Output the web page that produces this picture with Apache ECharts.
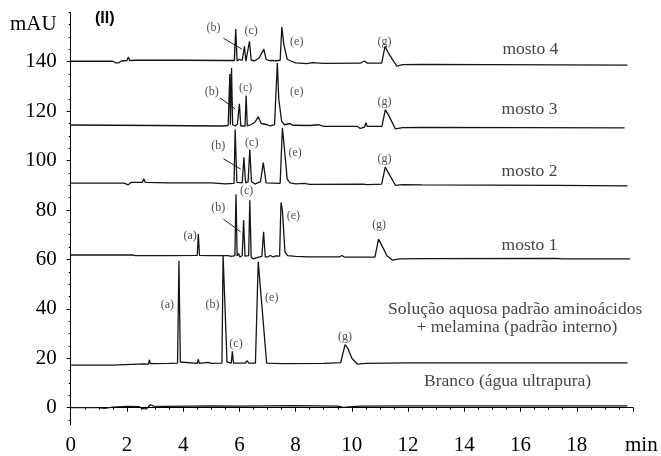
<!DOCTYPE html>
<html>
<head>
<meta charset="utf-8">
<script src="https://cdn.jsdelivr.net/npm/echarts@6/dist/echarts.min.js"></script>
<style>
  html, body { margin: 0; padding: 0; background: #fff; }
  #chart { width: 661px; height: 456px; }
</style>
</head>
<body>
<div id="chart"></div>
<script>
// Retention time (min) vs absorbance (mAU); each trace is drawn with its own baseline offset.
const xTicks = [0, 2, 4, 6, 8, 10, 12, 14, 16, 18];
const yTicks = [0, 20, 40, 60, 80, 100, 120, 140];

const branco = [
  [0, 0], [1.0, 0], [1.2, -0.3], [1.5, 0.2], [2.0, 0.5], [2.45, 0.4], [2.55, -0.4], [2.7, -0.5],
  [2.83, 1.2], [2.95, 0.6], [3.3, 0.5], [4.2, 0.6], [4.25, 1.0], [4.3, 0.6], [5.0, 0.7], [6.0, 0.6],
  [8.0, 0.8], [9.5, 0.6], [9.7, 0.1], [9.9, 0.3], [10.3, 0.6], [12.0, 0.7], [19.8, 0.7]
];

const solucao = [
  [0, 17.2], [1.5, 17.2], [1.55, 17.6], [2.6, 17.7], [2.77, 17.6], [2.8, 19.4], [2.83, 17.8],
  [3.5, 17.9], [3.8, 18.0], [3.85, 59.5], [3.9, 18.5], [3.97, 17.8], [4.5, 17.9], [4.54, 19.6],
  [4.57, 17.9], [4.9, 18.3], [5.0, 17.9], [5.38, 18.0], [5.42, 61.8], [5.45, 61.8], [5.56, 18.5],
  [5.62, 18.0], [5.71, 18.0], [5.75, 22.8], [5.79, 18.0], [6.2, 18.0], [6.28, 19.0], [6.33, 18.0],
  [6.57, 18.0], [6.67, 59.1], [6.72, 59.1], [6.97, 18.0], [7.5, 17.8], [9.0, 17.9], [9.6, 18.2],
  [9.76, 25.5], [9.86, 24.0], [10.0, 20.0], [10.2, 17.6], [10.5, 17.9], [12.0, 18.1], [19.8, 18.1]
];

const mosto1 = [
  [0, 61.8], [2.2, 61.8], [2.3, 61.5], [3.5, 61.5], [4.5, 61.6], [4.54, 70.3], [4.58, 61.6],
  [5.0, 61.5], [5.6, 61.5], [5.72, 61.2], [5.84, 61.5], [5.88, 86.4], [5.92, 61.4], [5.97, 62.4],
  [6.02, 61.0], [6.1, 61.5], [6.15, 75.9], [6.2, 61.3], [6.26, 60.5], [6.33, 61.5], [6.37, 83.9],
  [6.42, 61.0], [6.5, 60.2], [6.65, 60.8], [6.8, 61.2], [6.86, 71.2], [6.92, 61.0], [7.0, 61.0],
  [7.1, 61.6], [7.2, 61.0], [7.3, 61.4], [7.43, 61.3], [7.48, 83.0], [7.53, 80.0], [7.62, 63.0],
  [7.72, 61.5], [8.0, 61.2], [8.5, 61.0], [9.55, 61.0], [9.65, 61.6], [9.74, 60.9], [10.82, 60.9],
  [10.95, 68.2], [11.05, 66.0], [11.25, 61.5], [11.45, 59.7], [11.7, 60.2], [12.5, 60.3],
  [17.3, 60.4], [17.5, 60.2], [19.9, 60.2]
];

const mosto2 = [
  [0, 90.9], [1.9, 90.9], [2.05, 90.2], [2.15, 91.2], [2.55, 91.2], [2.6, 92.6], [2.65, 91.2],
  [3.5, 91.0], [5.0, 91.0], [5.5, 90.6], [5.81, 90.8], [5.85, 112.6], [5.91, 91.2], [6.1, 91.0],
  [6.16, 101.3], [6.22, 91.0], [6.31, 91.5], [6.37, 104.5], [6.43, 91.5], [6.55, 90.5], [6.75, 91.5],
  [6.85, 99.2], [6.95, 91.0], [7.0, 90.6], [7.45, 90.8], [7.53, 113.3], [7.6, 105.0], [7.7, 92.5],
  [7.8, 91.0], [8.0, 90.6], [8.3, 90.8], [8.5, 90.4], [10.4, 90.5], [10.47, 91.3], [10.55, 90.3],
  [11.06, 90.5], [11.19, 97.4], [11.3, 95.0], [11.55, 90.0], [11.8, 90.3], [12.5, 90.2],
  [17.3, 90.0], [19.8, 89.8]
];

const mosto3 = [
  [0, 114.4], [3.0, 114.2], [5.4, 114.0], [5.6, 114.2], [5.66, 135.0], [5.68, 114.5], [5.72, 137.5],
  [5.76, 114.5], [5.85, 114.0], [5.93, 114.8], [6.0, 123.0], [6.05, 114.0], [6.12, 114.8],
  [6.2, 114.0], [6.24, 126.3], [6.28, 114.0], [6.4, 114.5], [6.55, 115.5], [6.67, 117.7],
  [6.78, 115.0], [6.85, 114.2], [7.0, 114.5], [7.1, 114.0], [7.25, 114.5], [7.31, 114.5],
  [7.35, 139.5], [7.4, 125.0], [7.5, 116.0], [7.6, 114.5], [7.8, 115.0], [7.9, 114.3], [8.5, 114.2],
  [8.8, 114.5], [9.0, 113.8], [10.2, 113.8], [10.3, 113.0], [10.36, 113.8], [10.45, 113.5],
  [10.5, 115.3], [10.55, 113.8], [11.07, 113.8], [11.19, 120.6], [11.3, 118.5], [11.55, 112.8],
  [11.8, 113.3], [12.5, 113.4], [19.7, 113.2]
];

const mosto4 = [
  [0, 140.2], [1.5, 140.2], [1.6, 139.5], [1.7, 139.5], [1.8, 140.3], [2.0, 140.5], [2.05, 141.9],
  [2.1, 140.5], [2.3, 140.6], [4.0, 140.6], [5.5, 140.5], [5.82, 140.5], [5.87, 153.2],
  [5.92, 140.3], [6.0, 141.0], [6.1, 140.5], [6.18, 146.2], [6.23, 140.2], [6.3, 140.8],
  [6.36, 148.2], [6.42, 140.6], [6.55, 140.4], [6.7, 141.5], [6.87, 145.1], [6.95, 141.0],
  [7.05, 140.5], [7.3, 140.4], [7.45, 140.6], [7.51, 154.0], [7.58, 147.0], [7.7, 141.0],
  [7.85, 140.2], [8.0, 139.5], [8.4, 139.2], [8.6, 139.6], [9.0, 139.3], [10.3, 139.4],
  [10.45, 140.3], [10.55, 139.4], [11.06, 139.4], [11.18, 146.2], [11.3, 143.5], [11.6, 138.2],
  [11.8, 138.8], [12.5, 138.9], [19.8, 138.6]
];

// Peak identifiers: [time, mAU, tag]
const peakTags = [
  [5.08, 153.7, '(b)'], [6.42, 152.4, '(c)'], [8.04, 148.2, '(e)'], [11.16, 148.2, '(g)'],
  [5.02, 128.0, '(b)'], [6.22, 129.5, '(c)'], [8.04, 128.0, '(e)'], [11.16, 123.9, '(g)'],
  [5.25, 105.8, '(b)'], [6.44, 107.2, '(c)'], [7.98, 103.2, '(e)'], [11.16, 100.8, '(g)'],
  [4.25, 69.6, '(a)'], [5.25, 81.0, '(b)'], [6.26, 87.7, '(c)'], [7.92, 77.6, '(e)'], [10.97, 73.9, '(g)'],
  [3.44, 41.6, '(a)'], [5.04, 41.6, '(b)'], [5.88, 25.9, '(c)'], [7.15, 44.3, '(e)'], [9.76, 28.6, '(g)']
];

// Leader lines from the (b) tags to their peaks
const leaders = [
  [[5.43, 149.5], [6.09, 145.1]],
  [[5.31, 125.4], [5.85, 120.9]],
  [[5.43, 100.8], [6.05, 96.5]],
  [[5.43, 76.3], [6.04, 71.2]]
];

// Sample names: [time, mAU, text]
const sampleTags = [
  [16.35, 145.1, 'mosto 4'],
  [16.32, 120.6, 'mosto 3'],
  [16.32, 95.8, 'mosto 2'],
  [16.32, 65.5, 'mosto 1'],
  [15.81, 39.7, 'Solução aquosa padrão aminoácidos'],
  [15.87, 32.6, '+ melamina (padrão interno)'],
  [15.54, 10.5, 'Branco (água ultrapura)']
];

const serif = '"Liberation Serif", "DejaVu Serif", serif';
const ink = '#141414';

const traces = [branco, solucao, mosto1, mosto2, mosto3, mosto4];

const series = traces.map(function (d) {
  return {
    type: 'line',
    data: d,
    showSymbol: false,
    symbol: 'none',
    lineStyle: { color: ink, width: 1.3 },
    silent: true,
    z: 3
  };
});

// faint highlight under the (b) peak of mosto 4
series[5].markArea = {
  silent: true,
  itemStyle: { color: '#a9c3df' },
  data: [[{ xAxis: 5.8, yAxis: 140.5 }, { xAxis: 5.86, yAxis: 147 }]]
};

leaders.forEach(function (seg) {
  series.push({
    type: 'line',
    data: seg,
    showSymbol: false,
    symbol: 'none',
    lineStyle: { color: '#222', width: 1 },
    silent: true,
    z: 2
  });
});

series.push({
  type: 'scatter',
  data: peakTags,
  symbolSize: 0,
  silent: true,
  z: 5,
  label: {
    show: true,
    position: 'inside',
    formatter: function (p) { return p.value[2]; },
    fontFamily: serif,
    fontSize: 12,
    color: '#222'
  }
});

series.push({
  type: 'scatter',
  data: sampleTags,
  symbolSize: 0,
  silent: true,
  z: 5,
  label: {
    show: true,
    position: 'inside',
    formatter: function (p) { return p.value[2]; },
    fontFamily: serif,
    fontSize: 17.5,
    color: '#111'
  }
});

const minorY = [];
for (let v = -5; v <= 160; v += 5) minorY.push(v);

const chart = echarts.init(document.getElementById('chart'), null, { renderer: 'canvas' });
chart.setOption({
  animation: false,
  backgroundColor: '#fff',
  grid: { left: 70.7, right: 28, top: 12.3, bottom: 29.3, containLabel: false },
  xAxis: {
    type: 'value',
    min: 0,
    max: 20,
    interval: 2,
    axisLine: { show: true, lineStyle: { color: '#000', width: 1 } },
    axisTick: { show: true, length: 4, inside: false, lineStyle: { color: '#000' } },
    minorTick: { show: true, splitNumber: 4, length: 2, lineStyle: { color: '#000' } },
    splitLine: { show: false },
    axisLabel: {
      show: true,
      margin: 10,
      fontFamily: serif,
      fontSize: 21,
      color: '#000',
      customValues: xTicks
    }
  },
  yAxis: [
    {
      type: 'value',
      min: -7,
      max: 160,
      axisLine: { show: true, lineStyle: { color: '#000', width: 1 } },
      axisTick: { show: true, length: 4, lineStyle: { color: '#000' }, customValues: yTicks },
      splitLine: { show: false },
      axisLabel: {
        show: true,
        margin: 14,
        fontFamily: serif,
        fontSize: 21,
        color: '#000',
        customValues: yTicks
      }
    },
    {
      type: 'value',
      min: -7,
      max: 160,
      position: 'left',
      axisLine: { show: false },
      axisTick: { show: true, length: 2, lineStyle: { color: '#000' }, customValues: minorY },
      axisLabel: { show: false },
      splitLine: { show: false }
    }
  ],
  graphic: [
    {
      type: 'text',
      left: 10,
      top: 14,
      style: { text: 'mAU', font: '21px ' + serif, fill: '#000' }
    },
    {
      type: 'text',
      left: 95,
      top: 11,
      style: { text: '(II)', font: 'bold 16px "Liberation Sans", Arial, sans-serif', fill: '#000' }
    },
    {
      type: 'text',
      left: 625,
      top: 435,
      style: { text: 'min', font: '21px ' + serif, fill: '#000' }
    }
  ],
  series: series
});
</script>
</body>
</html>
